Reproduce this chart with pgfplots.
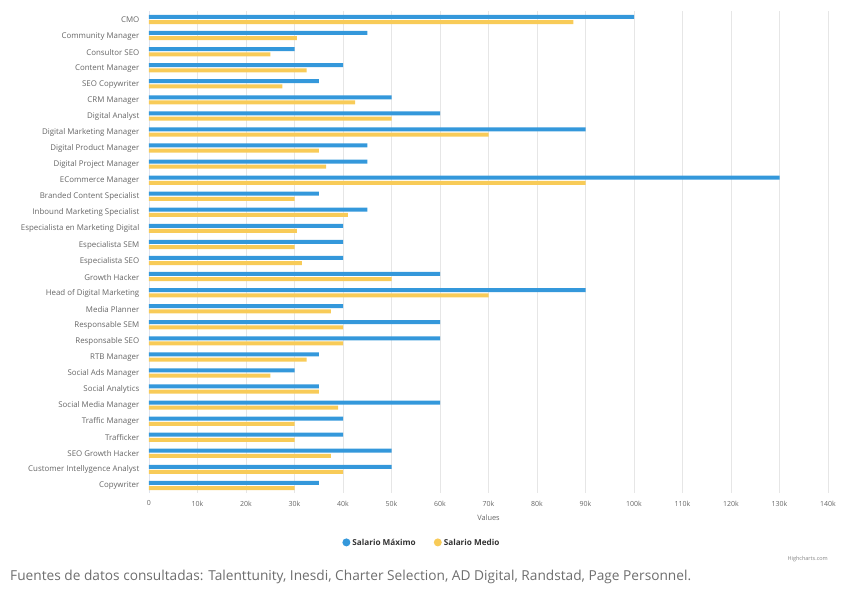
\documentclass[border=0pt]{standalone}
\usepackage{fontspec}
\setmainfont{Open Sans}
\usepackage{pgfplots}
\usepackage{pgfplotstable}
\pgfplotsset{compat=1.18}
\definecolor{maxblue}{HTML}{3498DB}
\definecolor{medyellow}{HTML}{F8CB58}
\definecolor{gridgray}{HTML}{E6E6E6}
\definecolor{axisgray}{HTML}{DDE3EE}
\definecolor{labelgray}{HTML}{666666}
\definecolor{darktext}{HTML}{333333}

% idx: position of the job title (top to bottom), max: Salario Maximo, med: Salario Medio
\pgfplotstableread{
idx max med
0 100000 87500
1 45000 30500
2 30000 25000
3 40000 32500
4 35000 27500
5 50000 42500
6 60000 50000
7 90000 70000
8 45000 35000
9 45000 36500
10 130000 90000
11 35000 30000
12 45000 41000
13 40000 30500
14 40000 30000
15 40000 31500
16 60000 50000
17 90000 70000
18 40000 37500
19 60000 40000
20 60000 40000
21 35000 32500
22 30000 25000
23 35000 35000
24 60000 39000
25 40000 30000
26 40000 30000
27 50000 37500
28 50000 40000
29 35000 30000
}\salaries

\begin{document}
\begin{tikzpicture}
\path[use as bounding box] (0pt,0pt) rectangle (852pt,601pt);
\begin{axis}[
  at={(149pt,107.5pt)}, anchor=south west,
  scale only axis, width=679pt, height=482pt,
  xbar, bar width=4pt,
  xmin=0, xmax=140000, ymin=-0.5, ymax=29.5, y dir=reverse,
  ytick={0,...,29},
  yticklabels={CMO,Community Manager,Consultor SEO,Content Manager,SEO Copywriter,CRM Manager,Digital Analyst,Digital Marketing Manager,Digital Product Manager,Digital Project Manager,ECommerce Manager,Branded Content Specialist,Inbound Marketing Specialist,Especialista en Marketing Digital,Especialista SEM,Especialista SEO,Growth Hacker,Head of Digital Marketing,Media Planner,Responsable SEM,Responsable SEO,RTB Manager,Social Ads Manager,Social Analytics,Social Media Manager,Traffic Manager,Trafficker,SEO Growth Hacker,Customer Intellygence Analyst,Copywriter},
  xtick={0,10000,...,140000},
  xticklabels={0,10k,20k,30k,40k,50k,60k,70k,80k,90k,100k,110k,120k,130k,140k},
  scaled x ticks=false,
  xmajorgrids, grid style={gridgray, line width=0.6pt},
  axis lines*=left, separate axis lines,
  x axis line style={draw=none},
  y axis line style={draw=axisgray, line width=0.6pt},
  major tick length=0pt,
  xticklabel style={font=\fontsize{7}{8}\selectfont, text=labelgray,
    anchor=north, inner sep=0pt, yshift=-7pt},
  yticklabel style={font=\fontsize{7.9}{8}\selectfont, text=labelgray,
    anchor=east, inner sep=0pt, xshift=-9.5pt, yshift=-0.5pt},
  xlabel={Values},
  xlabel style={at={(axis description cs:0.5,0)}, anchor=center, yshift=-24.5pt,
    font=\fontsize{7.4}{8}\selectfont, text=labelgray},
  legend style={at={(axis description cs:0.402,-0.1025)}, anchor=center,
    draw=none, fill=none, legend columns=2,
    font=\fontsize{8.2}{9}\selectfont\bfseries, text=darktext,
    /tikz/every even column/.append style={column sep=16pt}},
  legend cell align=left,
]
\addplot[fill=maxblue, draw=none, bar shift=2.6pt,
  legend image code/.code={\fill[maxblue] (3pt,0.5pt) circle (4pt);}]
  table[x=max, y=idx] {\salaries};
\addlegendentry{Salario Máximo}
\addplot[fill=medyellow, draw=none, bar shift=-2.6pt,
  legend image code/.code={\fill[medyellow] (3pt,0.5pt) circle (4pt);}]
  table[x=med, y=idx] {\salaries};
\addlegendentry{Salario Medio}
\end{axis}
\node[anchor=east, inner sep=0pt, font=\fontsize{5.5}{6}\selectfont, text=labelgray!80] at (828pt,42pt) {Highcharts.com};
\node[anchor=west, inner sep=0pt, font=\fontsize{13.7}{15}\selectfont, text=labelgray!95] at (10pt,24.5pt) {Fuentes de datos consultadas: Talenttunity, Inesdi, Charter Selection, AD Digital, Randstad, Page Personnel.};
\end{tikzpicture}
\end{document}
